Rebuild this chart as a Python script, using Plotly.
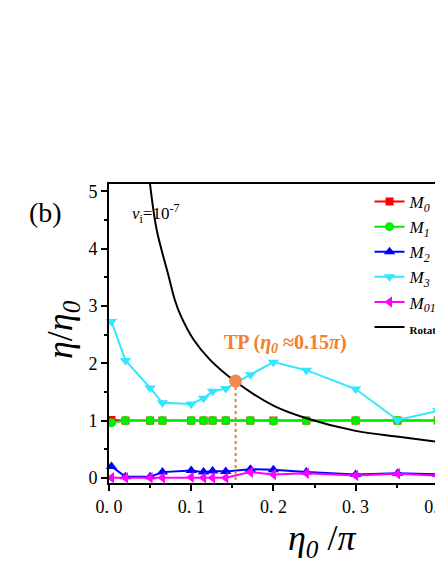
import plotly.graph_objects as go

# ---- data ----
eta0 = [0.003, 0.02, 0.05, 0.065, 0.1, 0.115, 0.126, 0.142, 0.172, 0.2, 0.24, 0.3, 0.351, 0.40]
M0 = [1.01, 1.0, 1.0, 1.0, 1.0, 1.0, 1.0, 1.0, 1.0, 1.0, 1.0, 1.0, 1.0, 1.0]
M1 = [0.96, 1.0, 1.0, 1.0, 1.0, 1.0, 1.0, 1.0, 1.0, 0.99, 1.0, 1.0, 1.0, 1.0]
M2 = [0.20, 0.02, 0.02, 0.10, 0.13, 0.10, 0.12, 0.11, 0.15, 0.14, 0.10, 0.06, 0.08, 0.06]
M3 = [2.73, 2.05, 1.57, 1.31, 1.29, 1.39, 1.51, 1.56, 1.80, 2.02, 1.88, 1.55, 1.01, 1.17]
M012 = [0.0, 0.0, 0.0, 0.0, 0.01, 0.0, 0.0, 0.0, 0.10, 0.06, 0.08, 0.04, 0.07, 0.04]

rot_x = [0.0499, 0.058, 0.072, 0.080, 0.087, 0.103, 0.123, 0.153, 0.2, 0.24, 0.3, 0.35, 0.41]
rot_y = [5.13, 4.33, 3.55, 3.11, 2.84, 2.41, 2.06, 1.69, 1.26, 1.04, 0.82, 0.72, 0.61]

tp_x, tp_y = 0.154, 1.69

xtick_vals = [0.0, 0.1, 0.2, 0.3, 0.4]
xtick_text = ["0. 0", "0. 1", "0. 2", "0. 3", "0. 4"]
ytick_vals = [0, 1, 2, 3, 4, 5]

SERIF = "Liberation Serif"

# page body has an 8px margin; figure coordinates are screen - 8
L, T, PW, PH = 101, 176, 334, 299

fig = go.Figure()

def add_series(y, name, color, symbol, size):
    fig.add_trace(go.Scatter(
        x=eta0, y=y, name=name, mode="lines+markers",
        line=dict(color=color, width=2),
        marker=dict(color=color, symbol=symbol, size=size),
        cliponaxis=False,
    ))

add_series(M0, "<i>M</i><sub><i>0</i></sub>", "#FF0000", "square", 8)
add_series(M1, "<i>M</i><sub><i>1</i></sub>", "#00EE00", "circle", 9)
add_series(M2, "<i>M</i><sub><i>2</i></sub>", "#0000FF", "triangle-up", 10)
add_series(M3, "<i>M</i><sub><i>3</i></sub>", "#33E6FF", "triangle-down", 10)
add_series(M012, "<i>M</i><sub><i>0123</i></sub>", "#FF00FF", "triangle-left", 10)

fig.add_trace(go.Scatter(
    x=rot_x, y=rot_y, name="<b><span style='font-size:11px'>Rotation</span></b>",
    mode="lines", line=dict(color="black", width=2, shape="spline", smoothing=1.0),
))

# TP marker with dotted drop line
fig.add_trace(go.Scatter(
    x=[tp_x, tp_x], y=[tp_y, -0.09], mode="lines",
    line=dict(color="#F07820", width=2, dash="dot"), showlegend=False,
    cliponaxis=False,
))
fig.add_trace(go.Scatter(
    x=[tp_x], y=[tp_y], mode="markers",
    marker=dict(color="#F5884A", size=13), showlegend=False,
))

fig.update_layout(
    width=443, height=565,
    margin=dict(l=L, r=443 - L - PW, t=T, b=565 - T - PH, autoexpand=False),
    paper_bgcolor="white", plot_bgcolor="white",
    font=dict(family=SERIF, color="black"),
    xaxis=dict(
        range=[0.0, 0.4063], showgrid=False, zeroline=False,
        showline=True, linecolor="black", linewidth=2, mirror=True,
        ticks="outside", ticklen=6, tickwidth=1.5, tickcolor="black",
        tickvals=xtick_vals, ticktext=xtick_text, ticklabeloverflow="allow",
        tickfont=dict(family=SERIF, size=18),
        minor=dict(dtick=0.05, ticks="outside", ticklen=3, tickcolor="black", tickwidth=1.5),
    ),
    yaxis=dict(
        range=[-0.09, 5.13], showgrid=False, zeroline=False,
        showline=True, linecolor="black", linewidth=2, mirror=False,
        ticks="outside", ticklen=6, tickwidth=1.5, tickcolor="black",
        tickvals=ytick_vals, tickfont=dict(family=SERIF, size=18),
        ticklabeloverflow="allow",
        minor=dict(dtick=0.5, ticks="outside", ticklen=3, tickcolor="black", tickwidth=1.5),
    ),
    legend=dict(
        x=0.78, y=1.0, xanchor="left", yanchor="top",
        bgcolor="rgba(0,0,0,0)", font=dict(family=SERIF, size=17),
        tracegroupgap=0, itemwidth=30,
    ),
    showlegend=True,
)

def px(x):
    # screen x -> paper
    return (x - 8 - L) / PW

def py(y):
    # screen y -> paper
    return (T + PH - (y - 8)) / PH

def ann(x, y, text, size, angle=0, color="black"):
    fig.add_annotation(x=px(x), y=py(y), xref="paper", yref="paper",
                       xanchor="center", yanchor="middle", textangle=angle,
                       text=text, showarrow=False,
                       font=dict(family=SERIF, size=size, color=color))

ann(45, 212, "(b)", 28)
ann(62, 330, "<i>η</i>/<i>η</i><sub><i>0</i></sub>", 36, angle=-90)
ann(322, 540, "<i>η<sub>0</sub></i> /<i>π</i>", 36)
ann(285, 343, "<b>TP (<i>η<sub>0</sub></i> ≈0.15<i>π</i>)</b>", 20, color="#F0802A")
ann(155, 213, "<i>v</i><sub>i</sub>=10<sup>-7</sup>", 17)

fig.write_html("out.html")
